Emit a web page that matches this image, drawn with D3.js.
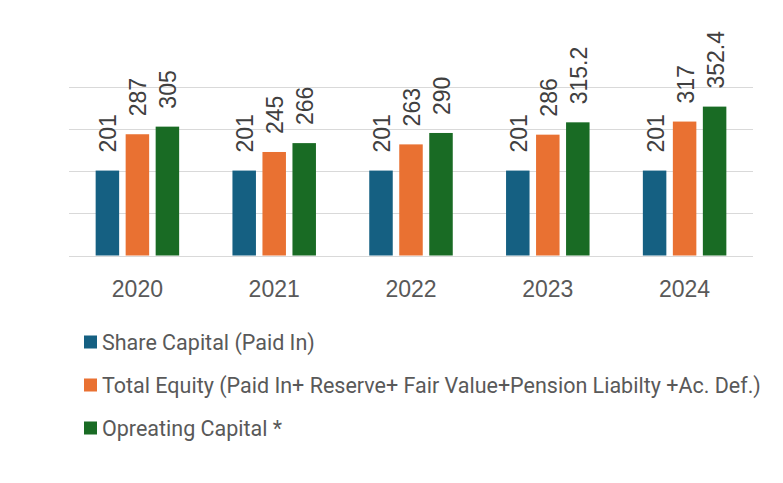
<!DOCTYPE html>
<html>
<head>
<meta charset="utf-8">
<script src="https://cdn.jsdelivr.net/npm/d3@7"></script>
<style>
  body { margin: 0; background: #ffffff; }
  svg { display: block; }
</style>
</head>
<body>
<div id="chart"></div>
<script>

// --- Daten ------------------------------------------------------------------ //

var years = ['2020', '2021', '2022', '2023', '2024'];
var seriesNames = ['Share Capital (Paid In)',
    'Total Equity (Paid In+ Reserve+ Fair Value+Pension Liabilty +Ac. Def.)',
    'Opreating Capital *'];
var shareCapital = [201, 201, 201, 201, 201];
var totalEquity = [287, 245, 263, 286, 317];
var operatingCapital = [305, 266, 290, 315.2, 352.4];
var gridTicks = [0, 100, 200, 300, 400];

var seriesValues = [shareCapital, totalEquity, operatingCapital];
var seriesColors = ['#156082', '#e97132', '#196b24'];

// --- Chart ------------------------------------------------------------------ //

var width = 783, height = 483;

var svg = d3.select('#chart').append('svg')
    .attr('width', width)
    .attr('height', height);

var x0 = d3.scaleBand()
    .domain(years)
    .range([69, 753])
    .padding(0);

var groupWidth = 83.5;
var x1 = d3.scaleBand()
    .domain([0, 1, 2])
    .range([(x0.bandwidth() - groupWidth) / 2, (x0.bandwidth() + groupWidth) / 2])
    .paddingInner(0.217);

var y = d3.scaleLinear()
    .domain([0, 400])
    .range([255.5, 86.5]);

// Gitterlinien
svg.append('g')
    .selectAll('line')
    .data(gridTicks)
    .enter().append('line')
    .attr('x1', 69)
    .attr('x2', 753)
    .attr('y1', function(d) { return Math.round(y(d)) + 0.5; })
    .attr('y2', function(d) { return Math.round(y(d)) + 0.5; })
    .attr('stroke', '#d9d9d9')
    .attr('stroke-width', 1);

// Balken
var groups = svg.append('g')
    .selectAll('g')
    .data(years)
    .enter().append('g')
    .attr('transform', function(d) { return 'translate(' + x0(d) + ',0)'; });

groups.each(function(year, yi) {
    var g = d3.select(this);
    for (var s = 0; s < seriesValues.length; s++) {
        var v = seriesValues[s][yi];
        g.append('rect')
            .attr('x', x1(s))
            .attr('y', y(v))
            .attr('width', x1.bandwidth())
            .attr('height', y(0) - y(v))
            .attr('fill', seriesColors[s]);

        var cx = x1(s) + x1.bandwidth() / 2 + 1;
        var ty = y(v) - 18;
        g.append('text')
            .attr('transform', 'translate(' + cx + ',' + ty + ') rotate(-90)')
            .attr('dy', '0.35em')
            .attr('text-anchor', 'start')
            .attr('fill', '#404040')
            .style('font-family', '"Liberation Sans", Arial, sans-serif')
            .style('font-size', '23px')
            .text(v);
    }
});

// X-Achse Beschriftung
svg.append('g')
    .selectAll('text')
    .data(years)
    .enter().append('text')
    .attr('x', function(d) { return x0(d) + x0.bandwidth() / 2; })
    .attr('y', 297)
    .attr('text-anchor', 'middle')
    .attr('fill', '#595959')
    .style('font-family', '"Liberation Sans", Arial, sans-serif')
    .style('font-size', '23px')
    .text(function(d) { return d; });

// Legende
var legend = svg.append('g')
    .selectAll('g')
    .data(seriesNames)
    .enter().append('g')
    .attr('transform', function(d, i) { return 'translate(84,' + (342 + i * 43) + ')'; });

legend.append('rect')
    .attr('x', 0)
    .attr('y', -6.5)
    .attr('width', 13)
    .attr('height', 13)
    .attr('fill', function(d, i) { return seriesColors[i]; });

legend.append('text')
    .attr('x', 18)
    .attr('y', 0)
    .attr('dy', '0.35em')
    .attr('fill', '#595959')
    .style('font-family', 'Roboto, sans-serif')
    .style('font-size', '21.5px')
    .text(function(d) { return d; });

</script>
</body>
</html>
